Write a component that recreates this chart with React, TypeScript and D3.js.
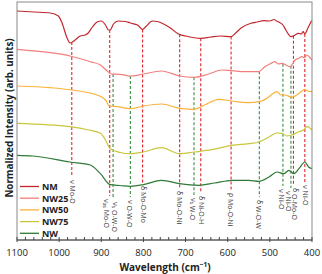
import React from "react";
import * as d3 from "d3";

// FTIR spectra, [wavenumber (cm-1), normalized intensity (arb. units)]
const nm: [number, number][] = [
  [1100, 229], [1060, 228], [1021, 227], [1002, 224], [993, 217], [983, 204], [974, 197],
  [962, 200], [950, 204], [938, 205], [931, 207], [921, 213], [910, 218], [900, 219],
  [890, 215], [883, 210], [879, 210], [871, 216], [860, 219], [843, 218.5], [831, 217],
  [814, 215], [802, 210.5], [793, 214], [779, 219], [767, 218.5], [752, 216], [736, 212],
  [717, 206], [700, 204], [664, 201.7], [640, 203], [617, 204], [593, 203.3], [581, 207],
  [569, 211.7], [545, 216.7], [530, 218], [514, 219.3], [500, 219], [490, 220.5], [484, 219],
  [479, 218], [469, 215], [462, 210], [450, 203.3], [440, 205], [433, 206.7], [425, 206],
  [421, 208.3], [417, 206], [410, 211.7], [405, 216], [402, 218.3], [400, 219.3],
];
const nw25: [number, number][] = [
  [1100, 190.7], [1021, 187.3], [974, 184], [926, 178.3], [902, 175], [886, 169], [876, 166],
  [855, 165.7], [831, 164], [800, 166], [757, 169], [714, 164], [679, 162.7], [645, 166],
  [614, 170], [590, 169.3], [560, 168.3], [526, 168.3], [512, 173.3], [500, 176], [488, 178.3],
  [480, 176], [471, 176.7], [462, 175], [452, 173.3], [446, 176], [440, 180], [430, 182],
  [424, 183.3], [418, 182], [412, 185], [406, 183], [400, 180],
];
const nw50: [number, number][] = [
  [1100, 154], [1021, 152.3], [969, 150], [910, 145], [890, 140], [881, 134], [862, 133.3],
  [831, 131.3], [800, 134], [757, 136], [714, 131.7], [679, 130.7], [655, 135], [621, 140.7],
  [590, 139], [550, 137.3], [526, 138.3], [502, 143.3], [494, 146], [483, 148.3], [474, 145],
  [464, 145], [448, 142.7], [440, 144], [431, 146.7], [417, 150.7], [410, 149], [400, 148.3],
];
const nw75: [number, number][] = [
  [1100, 116.7], [974, 113.3], [930, 110], [902, 106.7], [890, 100], [879, 91.3], [855, 87.5],
  [831, 86.3], [800, 88], [757, 92.3], [714, 86.3], [679, 88], [638, 90.3], [590, 94.7],
  [550, 96.3], [526, 98], [502, 103], [483, 107], [471, 106.7], [460, 104], [448, 105],
  [431, 108.3], [420, 110], [412, 113.3], [400, 110],
];
const nw: [number, number][] = [
  [1100, 84.7], [1062, 84], [974, 78], [926, 75], [902, 66.3], [879, 55.3], [855, 54.5],
  [831, 53.7], [800, 55.3], [757, 59.7], [714, 56.3], [669, 54.7], [631, 57], [590, 59.7],
  [550, 59.7], [526, 58.7], [502, 63], [483, 68], [467, 66.3], [455, 69.7], [443, 66.3],
  [431, 71.3], [417, 78], [408, 73], [400, 71.3],
];

const samples = ["NM", "NW25", "NW50", "NW75", "NW"];
const spectra = [nm, nw25, nw50, nw75, nw];
const sampleColors = ["#c1272d", "#f27f7c", "#fbb23a", "#c9c63c", "#2f7a36"];

// band assignments: wavenumber, label, sample where the band is marked
const bandWave = [970, 880, 872, 831, 802, 714, 680, 664, 592, 525, 469, 450, 444, 417];
const bandName = [
  ["ν", "", " Mo-O"], ["ν", "as", " Mo-O"], ["ν", "s", " O-W-O"], ["ν", "", " O-W-O"],
  ["δ", "", " Mo-O-Mo"], ["δ", "", " Mo-O-Ni"], ["ν", "s", " W-O"], ["δ", "", " Ni-O-H"],
  ["ρ", "", " Mo-O-Ni"], ["δ", "", " W-O-W"], ["ν", "", " Ni-O"], ["ν", "", " Ni-O"],
  ["δ", "", " O-Mo-O"], ["ν", "", " Ni-O"],
];
const bandSource = ["NM", "NM", "NW25", "NW25", "NM", "NM", "NW25", "NM", "NM", "NW25", "NW25", "NW25", "NM", "NM"];

const xTicks = [1100, 1000, 900, 800, 700, 600, 500, 400];

const W = 322;
const H = 274;
const left = 17, right = 312, top = 2, bottom = 240;

// where each dashed line stops, and label nudges
const lineEnd = [177, 196, 199, 197, 183, 188, 195, 193, 190, 197, 186, 188, 185, 182];
const labelDx = [1, -3, 2, 0, 1, 0, -1, 1, 0, 0, -1, -2, 2, 1];

function interp(s: [number, number][], w: number) {
  for (let i = 0; i < s.length - 1; i++) {
    const [w0, v0] = s[i];
    const [w1, v1] = s[i + 1];
    if (w <= w0 && w >= w1) return v0 + ((w - w0) / (w1 - w0)) * (v1 - v0);
  }
  return s[s.length - 1][1];
}

export default function App() {
  const x = d3.scaleLinear().domain([1100, 400]).range([left, right]);
  const y = d3.scaleLinear().domain([0, 238]).range([bottom, top]);
  const line = d3
    .line<[number, number]>()
    .x((d) => x(d[0]))
    .y((d) => y(d[1]))
    .curve(d3.curveMonotoneX);

  const minor = d3.range(1100, 399, -20).filter((v) => v % 100 !== 0);
  const font = "'Open Sans', 'Noto Sans', sans-serif";

  return (
    <svg width={W} height={H} style={{ position: "absolute", left: 0, top: 0, background: "#fff" }} fontFamily={font}>
      {/* dashed band markers */}
      {bandWave.map((w, i) => {
        const src = spectra[samples.indexOf(bandSource[i])];
        const isNM = bandSource[i] === "NM";
        return (
          <line
            key={"b" + i}
            x1={x(w)}
            x2={x(w)}
            y1={y(interp(src, w))}
            y2={lineEnd[i]}
            stroke={isNM ? "#e0262b" : "#3d8a45"}
            strokeWidth={1.1}
            strokeDasharray="3,2"
          />
        );
      })}
      {bandWave.map((w, i) => {
        const [g, sub, rest] = bandName[i];
        const lx = x(w) + labelDx[i];
        const ly = lineEnd[i] + 3;
        return (
          <text
            key={"t" + i}
            transform={`translate(${lx},${ly}) rotate(90)`}
            fontSize={7}
            fill="#333"
            dominantBaseline="central"
          >
            {g}
            {sub && (
              <tspan fontSize={5} dy={1.5}>
                {sub}
              </tspan>
            )}
            <tspan dy={sub ? -1.5 : 0}>{rest}</tspan>
          </text>
        );
      })}

      {spectra.map((s, i) => (
        <path key={samples[i]} d={line(s) ?? ""} fill="none" stroke={sampleColors[i]} strokeWidth={1.2} />
      ))}

      {/* frame */}
      <rect x={left} y={top} width={right - left} height={bottom - top} fill="none" stroke="#8a8a8a" strokeWidth={1} />
      <line x1={left} x2={right} y1={bottom} y2={bottom} stroke="#444" strokeWidth={1} />
      {xTicks.map((t) => (
        <g key={"x" + t}>
          <line x1={x(t)} x2={x(t)} y1={bottom - 3} y2={bottom + 2} stroke="#444" />
          <text x={x(t)} y={256} textAnchor="middle" fontSize={9.5} fill="#222">
            {t}
          </text>
        </g>
      ))}
      {minor.map((t) => (
        <line key={"m" + t} x1={x(t)} x2={x(t)} y1={bottom - 3} y2={bottom} stroke="#444" />
      ))}

      <text x={165} y={271} textAnchor="middle" fontSize={10} fontWeight="bold" fill="#222">
        Wavelength (cm<tspan fontSize={6.5} dy={-4}>−1</tspan><tspan dy={4}>)</tspan>
      </text>
      <text transform={`translate(13,118) rotate(-90)`} textAnchor="middle" fontSize={9.8} fontWeight="bold" fill="#222">
        Normalized Intensity (arb. units)
      </text>

      {/* legend */}
      {samples.map((s, i) => (
        <g key={"l" + s} transform={`translate(20,${186.5 + i * 11.7})`}>
          <line x1={0} x2={19} y1={0} y2={0} stroke={sampleColors[i]} strokeWidth={1.3} />
          <text x={22} y={0} dominantBaseline="central" fontSize={9} fontWeight="bold" fill="#222">
            {s}
          </text>
        </g>
      ))}
    </svg>
  );
}
